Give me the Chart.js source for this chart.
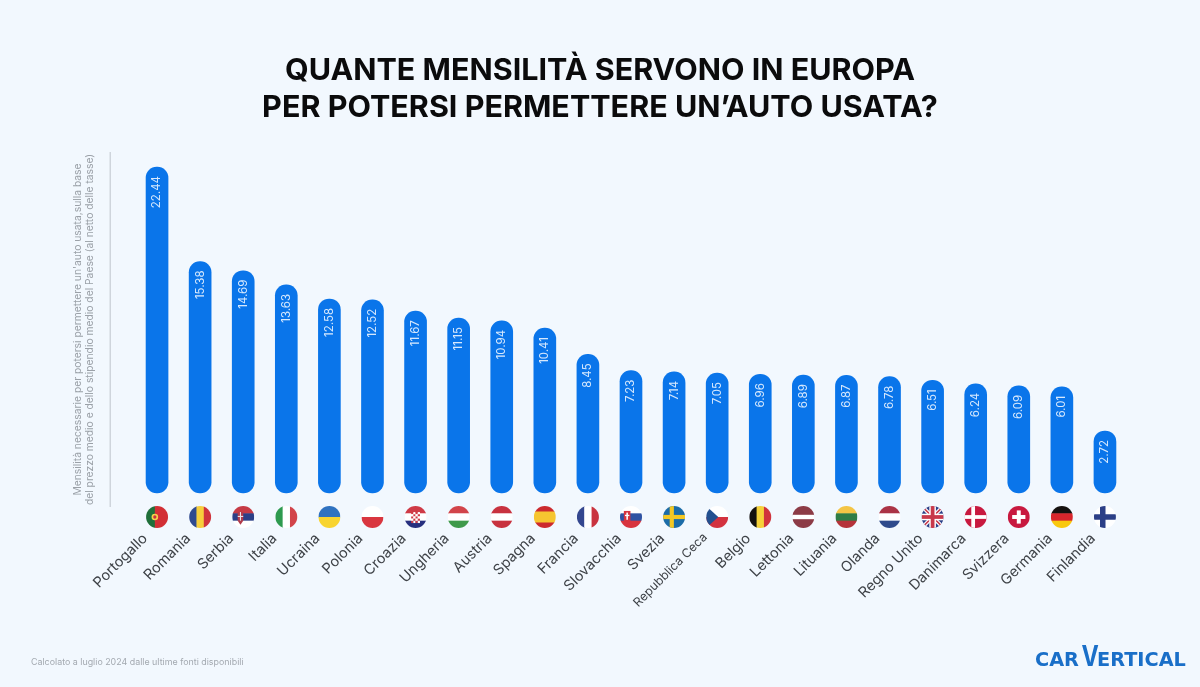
<!DOCTYPE html>
<html lang="it">
<head>
<meta charset="utf-8">
<title>Mensilità auto usata</title>
<script src="https://cdn.jsdelivr.net/npm/chart.js@4"></script>
<style>
  html, body { margin: 0; padding: 0; background: #f2f8fe; }
  #wrap { width: 1200px; height: 687px; }
</style>
</head>
<body>
<div id="wrap"><canvas id="chart" width="1200" height="687"></canvas></div>
<script>
const countries = ['Portogallo', 'Romania', 'Serbia', 'Italia', 'Ucraina', 'Polonia', 'Croazia', 'Ungheria', 'Austria', 'Spagna', 'Francia', 'Slovacchia', 'Svezia', 'Repubblica Ceca', 'Belgio', 'Lettonia', 'Lituania', 'Olanda', 'Regno Unito', 'Danimarca', 'Svizzera', 'Germania', 'Finlandia'];
const months = [22.44, 15.38, 14.69, 13.63, 12.58, 12.52, 11.67, 11.15, 10.94, 10.41, 8.45, 7.23, 7.14, 7.05, 6.96, 6.89, 6.87, 6.78, 6.51, 6.24, 6.09, 6.01, 2.72];
const titleLines = ['QUANTE MENSILITÀ SERVONO IN EUROPA', 'PER POTERSI PERMETTERE UN’AUTO USATA?'];
const axisLines = ['Mensilità necessarie per potersi permettere un\'auto usata,sulla base', 'del prezzo medio e dello stipendio medio del Paese (al netto delle tasse)'];
const footnote = 'Calcolato a luglio 2024 dalle ultime fonti disponibili';

// Le barre non partono da zero nell'originale: base e limiti
const BAR_BASE = -1.91, Y_MIN = -2.96, Y_MAX = 23.56;

const BLUE = '#0a75ea', FONT = "Inter, 'Liberation Sans', sans-serif";
const RED = '#c8313e', WHITE = '#ffffff', NAVY = '#2b3f87';

// Bandiere: strisce [colore, peso], 'h' orizzontali, 'v' verticali, più un eventuale extra
const flags = [
  { dir: 'v', bands: [['#1f6f3a', 2], ['#d22f35', 3]], extra: 'dot' },
  { dir: 'v', bands: [['#2f4a8f', 1], ['#f7cf3c', 1], ['#d0343c', 1]] },
  { dir: 'h', bands: [['#c63a45', 1], [NAVY, 1], [WHITE, 1]], extra: 'shieldRs' },
  { dir: 'v', bands: [['#2e9a4f', 1], [WHITE, 1], ['#d2444a', 1]] },
  { dir: 'h', bands: [['#2f72c0', 1], ['#f8d430', 1]] },
  { dir: 'h', bands: [[WHITE, 1], ['#d9363f', 1]] },
  { dir: 'h', bands: [['#cf3a46', 1], [WHITE, 1], ['#27307f', 1]], extra: 'shieldHr' },
  { dir: 'h', bands: [['#d2444a', 1], [WHITE, 1], ['#3f9a4b', 1]] },
  { dir: 'h', bands: [['#c8323f', 1], [WHITE, 1], ['#c8323f', 1]] },
  { dir: 'h', bands: [['#cc2a2e', 1], ['#f6c530', 2], ['#cc2a2e', 1]] },
  { dir: 'v', bands: [['#34478f', 1], [WHITE, 1], ['#c9333f', 1]] },
  { dir: 'h', bands: [[WHITE, 1], ['#2f53a3', 1], ['#d8343f', 1]], extra: 'shieldSk' },
  { dir: 'h', bands: [['#1b6ca8', 1]], extra: 'crossSe' },
  { dir: 'h', bands: [[WHITE, 1], ['#d3323f', 1]], extra: 'triangle' },
  { dir: 'v', bands: [['#14110f', 1], ['#f6d23a', 1], ['#d0343c', 1]] },
  { dir: 'h', bands: [['#8c3b46', 2], [WHITE, 1], ['#8c3b46', 2]] },
  { dir: 'h', bands: [['#f4c545', 1], ['#2f7d46', 1], ['#b5333a', 1]] },
  { dir: 'h', bands: [['#ab3345', 1], [WHITE, 1], ['#2f4b8c', 1]] },
  { dir: 'h', bands: [[NAVY, 1]], extra: 'union' },
  { dir: 'h', bands: [['#c8193f', 1]], extra: 'crossDk' },
  { dir: 'h', bands: [['#c8193f', 1]], extra: 'plus' },
  { dir: 'h', bands: [['#15110f', 1], ['#d8262c', 1], ['#f9c80e', 1]] },
  { dir: 'h', bands: [[WHITE, 1]], extra: 'crossFi' },
];

const flagExtras = {
  dot(c, r) {
    c.fillStyle = '#f3d24a'; c.beginPath(); c.arc(-r * 0.2, 0, r * 0.3, 0, 7); c.fill();
    c.fillStyle = '#c8313e'; c.beginPath(); c.arc(-r * 0.2, 0, r * 0.15, 0, 7); c.fill();
  },
  shieldRs(c, r) {
    c.fillStyle = '#b23a4a'; c.fillRect(-r * 0.5, -r * 0.45, r * 0.5, r * 0.8);
    c.fillStyle = '#e9e4e8'; c.fillRect(-r * 0.3, -r * 0.45, r * 0.1, r * 0.8); c.fillRect(-r * 0.5, -r * 0.1, r * 0.5, r * 0.1);
    c.fillStyle = '#b23a4a'; c.beginPath(); c.moveTo(-r * 0.5, r * 0.35); c.lineTo(0, r * 0.35); c.lineTo(-r * 0.25, r * 0.7); c.fill();
  },
  shieldHr(c, r) {
    const s = r * 0.2;
    for (let i = 0; i < 4; i++) for (let j = 0; j < 5; j++) {
      c.fillStyle = (i + j) % 2 ? WHITE : '#cf3a46';
      c.fillRect(-2 * s + i * s, -r * 0.45 + j * s, s, s);
    }
  },
  shieldSk(c, r) {
    c.fillStyle = '#d8343f'; c.fillRect(-r * 0.65, -r * 0.55, r * 0.6, r * 0.95);
    c.fillStyle = WHITE; c.fillRect(-r * 0.42, -r * 0.4, r * 0.14, r * 0.65); c.fillRect(-r * 0.55, -r * 0.2, r * 0.4, r * 0.12);
  },
  crossSe(c, r) { c.fillStyle = '#f4c823'; c.fillRect(-r * 0.4, -r, r * 0.38, 2 * r); c.fillRect(-r, -r * 0.19, 2 * r, r * 0.38); },
  triangle(c, r) { c.fillStyle = '#24508f'; c.beginPath(); c.moveTo(-r, -r); c.lineTo(r * 0.1, 0); c.lineTo(-r, r); c.fill(); },
  union(c, r) {
    c.strokeStyle = WHITE; c.lineWidth = r * 0.35;
    c.beginPath(); c.moveTo(-r, -r); c.lineTo(r, r); c.moveTo(r, -r); c.lineTo(-r, r); c.stroke();
    c.strokeStyle = '#c8394b'; c.lineWidth = r * 0.14; c.stroke();
    c.fillStyle = WHITE; c.fillRect(-r, -r * 0.3, 2 * r, r * 0.6); c.fillRect(-r * 0.3, -r, r * 0.6, 2 * r);
    c.fillStyle = '#c8394b'; c.fillRect(-r, -r * 0.17, 2 * r, r * 0.34); c.fillRect(-r * 0.17, -r, r * 0.34, 2 * r);
  },
  crossDk(c, r) { c.fillStyle = WHITE; c.fillRect(-r * 0.4, -r, r * 0.34, 2 * r); c.fillRect(-r, -r * 0.17, 2 * r, r * 0.34); },
  plus(c, r) { c.fillStyle = WHITE; c.fillRect(-r * 0.18, -r * 0.6, r * 0.36, r * 1.2); c.fillRect(-r * 0.6, -r * 0.18, r * 1.2, r * 0.36); },
  crossFi(c, r) { c.fillStyle = NAVY; c.fillRect(-r * 0.45, -r, r * 0.5, 2 * r); c.fillRect(-r, -r * 0.25, 2 * r, r * 0.5); },
};

function drawFlag(c, flag, x, y, r) {
  c.save();
  c.translate(x, y);
  c.beginPath();
  c.arc(0, 0, r, 0, Math.PI * 2);
  c.clip();
  const total = flag.bands.reduce((s, b) => s + b[1], 0);
  let pos = -r;
  flag.bands.forEach(([color, weight]) => {
    const size = 2 * r * weight / total;
    c.fillStyle = color;
    if (flag.dir === 'h') c.fillRect(-r, pos, 2 * r, size + 0.5);
    else c.fillRect(pos, -r, size + 0.5, 2 * r);
    pos += size;
  });
  if (flag.extra) flagExtras[flag.extra](c, r);
  c.restore();
}

// Valori ruotati dentro le barre, bandiere sotto, filetto dell'asse, nota e logo
const decorations = {
  id: 'decorations',
  afterDatasetsDraw(chart) {
    const { ctx, scales: { x }, chartArea } = chart;
    const bars = chart.getDatasetMeta(0).data;

    ctx.save();
    ctx.fillStyle = '#cfd5dc';
    ctx.fillRect(chartArea.left - 26, chartArea.top, 1.5, chartArea.bottom - chartArea.top);

    bars.forEach((bar, i) => {
      ctx.save();
      ctx.translate(bar.x, bar.y + 9);
      ctx.rotate(-Math.PI / 2);
      ctx.font = `400 11.5px ${FONT}`;
      ctx.fillStyle = '#d6e8fd';
      ctx.textAlign = 'right';
      ctx.textBaseline = 'middle';
      ctx.fillText(months[i].toFixed(2), 0, 0);
      ctx.restore();
      drawFlag(ctx, flags[i], x.getPixelForValue(i), 517, 11);
    });

    ctx.font = `400 8.9px ${FONT}`;
    ctx.fillStyle = '#a3a9b0';
    ctx.textAlign = 'left';
    ctx.textBaseline = 'middle';
    ctx.fillText(footnote, 31, 662.5);

    // Logo: la V è più alta e stretta delle altre lettere
    ctx.fillStyle = '#1a6fc8';
    ctx.textBaseline = 'alphabetic';
    ctx.font = "700 19.3px 'DejaVu Sans', sans-serif";
    ctx.fillText('CAR', 1035, 666);
    ctx.fillText('ERTICAL', 1097, 666);
    ctx.save();
    ctx.translate(1081.5, 666);
    ctx.scale(0.8, 1);
    ctx.font = `700 29px ${FONT}`;
    ctx.fillText('V', 0, 0);
    ctx.restore();
    ctx.restore();
  },
};

new Chart(document.getElementById('chart'), {
  type: 'bar',
  data: {
    labels: countries,
    datasets: [{
      data: months,
      base: BAR_BASE,
      yAxisID: 'y',
      backgroundColor: BLUE,
      barThickness: 22,
      borderRadius: 11,
      borderSkipped: false,
    }],
  },
  options: {
    responsive: false,
    animation: false,
    layout: { padding: 0 },
    plugins: {
      legend: { display: false },
      tooltip: { enabled: false },
      title: {
        display: true,
        text: titleLines,
        color: '#0b0b0c',
        font: { family: FONT, size: 30.5, weight: '700', lineHeight: 1.213 },
        padding: { top: 52, bottom: 26 },
      },
    },
    scales: {
      x: {
        grid: { display: false },
        border: { display: false },
        afterFit: scale => { scale.height = 180; },
        ticks: {
          color: '#3f4348',
          autoSkip: false,
          minRotation: 45,
          maxRotation: 45,
          padding: 15,
          labelOffset: -12,
          font: ctx => ({ family: FONT, size: ctx.index === 13 ? 12.3 : 14.5 }),
        },
      },
      y: {
        min: Y_MIN,
        max: Y_MAX,
        grid: { display: false },
        border: { display: false },
        ticks: { display: false },
        afterFit: scale => { scale.width = 135.5; },
        title: {
          display: true,
          text: axisLines,
          color: '#9ba1a8',
          font: { family: FONT, size: 10.3, lineHeight: 1.25 },
          padding: { top: 71, bottom: 0 },
        },
      },
      // Asse vuoto a destra: solo per tenere il titolo centrato sulla pagina
      spacer: {
        position: 'right',
        grid: { display: false },
        border: { display: false },
        ticks: { display: false },
        afterFit: scale => { scale.width = 73.5; },
      },
    },
  },
  plugins: [decorations],
});
</script>
</body>
</html>
